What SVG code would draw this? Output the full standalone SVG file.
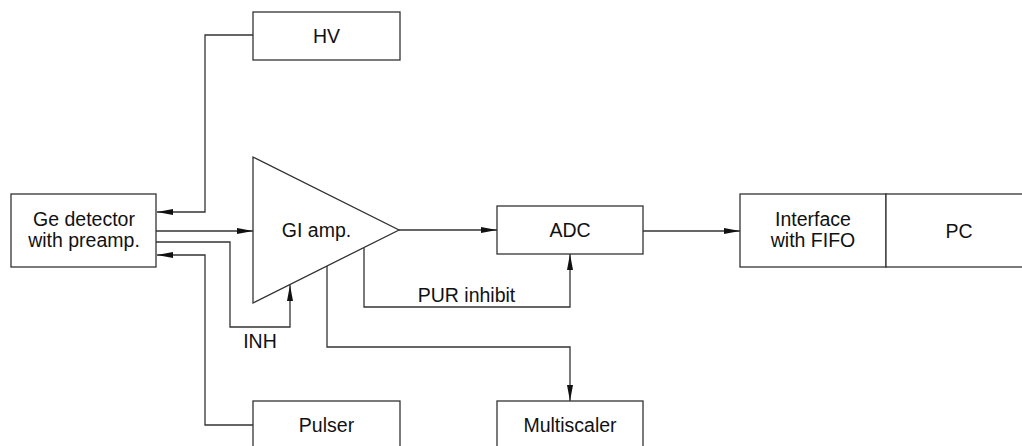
<svg xmlns="http://www.w3.org/2000/svg" width="1022" height="446" viewBox="0 0 1022 446">
<defs>
<marker id="arr" viewBox="0 0 16 6" refX="16" refY="3" markerWidth="16" markerHeight="6" markerUnits="userSpaceOnUse" orient="auto">
<path d="M0,0 L16,3 L0,6 Z" fill="#111"/>
</marker>
<style>
.box{fill:#fff;stroke:#333;stroke-width:1.3}
.ln{fill:none;stroke:#333;stroke-width:1.3}
.ar{marker-end:url(#arr)}
text{font-family:"Liberation Sans",Arial,sans-serif;font-size:19.5px;fill:#111;text-anchor:middle}
</style>
</defs>
<rect width="1022" height="446" fill="#fff"/>
<g id="connectors">
<path class="ln ar" d="M253,35 H205 V212 H157"/>
<path class="ln ar" d="M156,231 H253"/>
<path class="ln ar" d="M156,242 H230 V327 H290 V285"/>
<path class="ln ar" d="M253,425 H205 V255 H157"/>
<path class="ln ar" d="M399,230 H497"/>
<path class="ln ar" d="M364,248 V307 H570 V254"/>
<path class="ln ar" d="M327,266 V347 H570 V401"/>
<path class="ln ar" d="M643,231 H740"/>
</g>
<g id="ge"><rect class="box" x="11" y="194" width="145" height="73"/><text x="84" y="226">Ge detector</text><text x="84" y="246.5">with preamp.</text></g>
<g id="hv"><rect class="box" x="253" y="12" width="147" height="48"/><text x="326.5" y="43">HV</text></g>
<g id="amp"><path class="box" d="M253,157 L399,230 L253,303 Z"/><text x="316.5" y="237">GI amp.</text></g>
<g id="adc"><rect class="box" x="497" y="206" width="146" height="48"/><text x="570" y="237">ADC</text></g>
<g id="interface"><rect class="box" x="740" y="194" width="146" height="73"/><text x="813" y="226">Interface</text><text x="813" y="246.5">with FIFO</text></g>
<g id="pc"><rect class="box" x="886" y="194" width="150" height="73"/><text x="959" y="237.5">PC</text></g>
<g id="pulser"><rect class="box" x="253" y="401" width="147" height="60"/><text x="326.5" y="431.5">Pulser</text></g>
<g id="multiscaler"><rect class="box" x="497" y="401" width="146" height="60"/><text x="570" y="431.5">Multiscaler</text></g>
<g id="labels"><text x="466.5" y="301.5">PUR inhibit</text><text x="260" y="348">INH</text></g>
</svg>
